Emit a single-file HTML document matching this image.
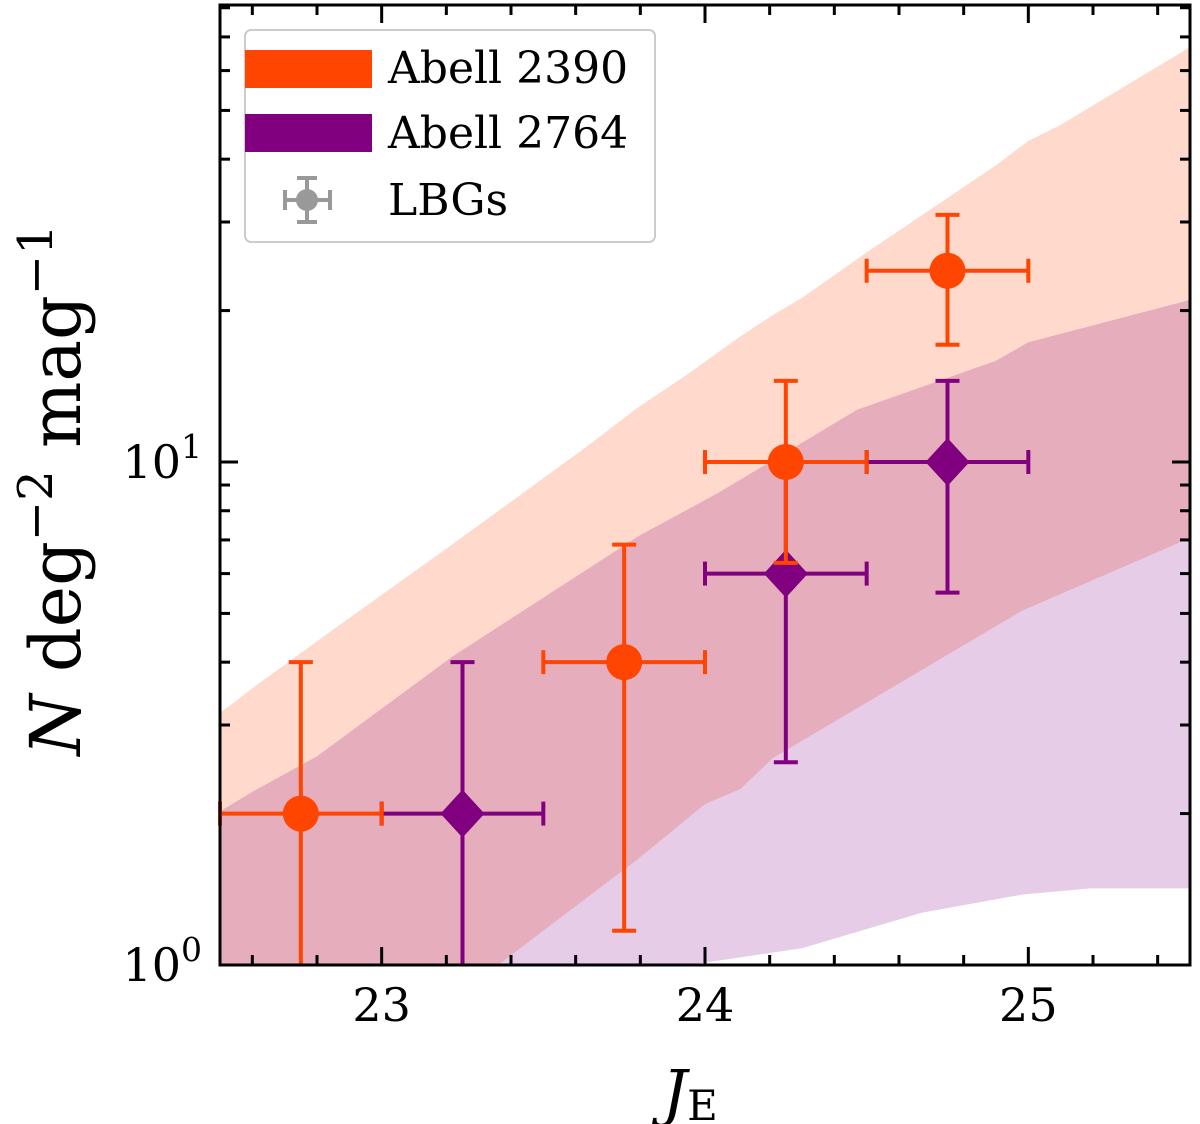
<!DOCTYPE html>
<html><head><meta charset="utf-8"><style>
html,body{margin:0;padding:0;background:#fff;}
svg{display:block;font-family:"DejaVu Serif","Liberation Serif",serif;}
</style></head><body>
<svg id="chart" width="1200" height="1124" viewBox="0 0 1200 1124" xmlns="http://www.w3.org/2000/svg">
<g id="bands"></g>
<g id="ticks"></g>
<g id="points"></g>
<rect x="220" y="5" width="970" height="960" fill="none" stroke="#000" stroke-width="3"/>
<g id="ticklabels" font-size="46"></g>
<text x="690" y="1114" font-size="62" text-anchor="middle"><tspan font-style="italic">J</tspan><tspan font-size="42" dy="6">E</tspan></text>
<text transform="translate(80,490) rotate(-90)" font-size="70" text-anchor="middle"><tspan font-style="italic">N</tspan> deg<tspan font-size="48" dy="-28">−2</tspan><tspan dy="28"> mag</tspan><tspan font-size="48" dy="-28">−1</tspan></text>
<g>
<rect x="245" y="30" width="410" height="212" rx="6" fill="#fff" fill-opacity="0.8" stroke="#ccc" stroke-width="2"/>
<rect x="245" y="50" width="127" height="38" fill="#ff4500"/>
<text x="388" y="83" font-size="44">Abell 2390</text>
<rect x="245" y="114" width="127" height="38" fill="#800080"/>
<text x="388" y="148" font-size="44">Abell 2764</text>
<g stroke="#999" stroke-width="4">
<line x1="285" y1="200" x2="330" y2="200"/><line x1="307" y1="178" x2="307" y2="222"/>
<line x1="285" y1="190" x2="285" y2="210"/><line x1="330" y1="190" x2="330" y2="210"/>
<line x1="297" y1="178" x2="317" y2="178"/><line x1="297" y1="222" x2="317" y2="222"/>
<circle cx="307" cy="200" r="11" fill="#999" stroke="none"/></g>
<text x="388" y="215" font-size="44">LBGs</text>
</g>
</svg>
<script>
const xTicksMajor=[23,24,25];
const a2390X=[22.75,23.75,24.25,24.75];
const a2390Y=[2,4,10,24];
const a2390Up=[4,6.85,14.5,31];
const a2390Lo=[0.5,1.17,6.3,17.1];
const a2764X=[23.25,24.25,24.75];
const a2764Y=[2,6,10];
const a2764Up=[4,10,14.5];
const a2764Lo=[0.5,2.53,5.5];
const xErr=0.25;
const a2390UpperX=[22.5,22.6,22.73,22.81,23.22,23.64,23.79,23.95,24.10,24.21,24.30,24.50,24.90,25.0,25.10,25.5];
const a2390Upper=[3.17,3.55,4.08,4.45,6.87,10.8,12.8,15.0,17.6,19.6,21.2,26.1,38.9,43.5,46.8,66.8];
const a2390LowerX=[22.5,23.36,23.79,23.90,24.0,24.11,24.21,24.32,24.98,25.5];
const a2390Lower=[0.5,1.0,1.62,1.85,2.09,2.24,2.58,2.84,5.06,7.06];
const a2764UpperX=[22.5,22.6,22.8,23.22,23.80,23.95,24.05,24.47,24.90,25.0,25.5];
const a2764Upper=[2.02,2.21,2.6,4.11,7.16,8.07,8.75,12.7,15.9,17.3,21.0];
const a2764LowerX=[22.5,23.95,24.30,24.67,24.98,25.19,25.5];
const a2764Lower=[0.5,1.0,1.08,1.27,1.38,1.42,1.42];
const NS='http://www.w3.org/2000/svg';
const X0=220,X1=1190,Y0=965,Y1=5;
const xs=v=>X0+(v-22.5)/3*(X1-X0);
const ys=v=>{let y=Y0-Math.log10(v)*503;return Math.min(Math.max(y,Y1),Y0);};
function mk(tag,attrs,parent){const e=document.createElementNS(NS,tag);for(const k in attrs)e.setAttribute(k,attrs[k]);parent.appendChild(e);return e;}
const bands=document.getElementById('bands');
function band(ux,up,lx,lo,col,name){let d='';ux.forEach((x,i)=>d+=(i?'L':'M')+xs(x)+','+ys(up[i]));for(let i=lx.length-1;i>=0;i--)d+='L'+xs(lx[i])+','+ys(lo[i]);d+='Z';
const p=mk('path',{d:d,fill:col,'fill-opacity':0.2},bands);

}
band(a2390UpperX,a2390Upper,a2390LowerX,a2390Lower,'#ff4500','band-abell-2390');
band(a2764UpperX,a2764Upper,a2764LowerX,a2764Lower,'#800080','band-abell-2764');
const tk=document.getElementById('ticks');
function tl(x1,y1,x2,y2){mk('line',{x1,y1,x2,y2,stroke:'#000','stroke-width':3},tk);}
for(let v=22.6;v<25.5;v+=0.2){const x=xs(v);const maj=Math.abs(v-Math.round(v))<0.01;const L=maj?18:10;tl(x,Y0,x,Y0-L);tl(x,Y1,x,Y1+L);}
for(let d=0;d<2;d++)for(let m=1;m<10;m++){const v=m*Math.pow(10,d);if(v>81)continue;const y=Y0-Math.log10(v)*503;const L=m===1?18:10;tl(X0,y,X0+L,y);tl(X1,y,X1-L,y);}
const lab=document.getElementById('ticklabels');
xTicksMajor.forEach(v=>{const t=mk('text',{x:xs(v),y:1021,'text-anchor':'middle'},lab);t.textContent=v;

});
[0,1].forEach(p=>{const t=mk('text',{x:202,y:Y0-p*503+16,'text-anchor':'end'},lab);t.innerHTML='10<tspan font-size="33" dy="-20">'+p+'</tspan>';

});
const pts=document.getElementById('points');
function eb(xv,yv,up,lo,col,shape,name){const g=mk('g',{stroke:col,'stroke-width':4},pts);


const cx=xs(xv),cy=ys(yv),xl=xs(xv-xErr),xr=xs(xv+xErr),yt=ys(up),yb=ys(lo);
mk('line',{x1:xl,y1:cy,x2:xr,y2:cy},g);mk('line',{x1:cx,y1:yt,x2:cx,y2:yb},g);
mk('line',{x1:xl,y1:cy-12,x2:xl,y2:cy+12},g);mk('line',{x1:xr,y1:cy-12,x2:xr,y2:cy+12},g);
mk('line',{x1:cx-12,y1:yt,x2:cx+12,y2:yt},g);if(yb<Y0)mk('line',{x1:cx-12,y1:yb,x2:cx+12,y2:yb},g);
if(shape==='c')mk('circle',{cx,cy,r:18,fill:col,stroke:'none'},g);
else mk('path',{d:`M${cx},${cy-24}L${cx+22},${cy}L${cx},${cy+24}L${cx-22},${cy}Z`,fill:col,stroke:'none'},g);}
a2764X.forEach((x,i)=>eb(x,a2764Y[i],a2764Up[i],a2764Lo[i],'#800080','d','point-abell-2764'));
a2390X.forEach((x,i)=>eb(x,a2390Y[i],a2390Up[i],a2390Lo[i],'#ff4500','c','point-abell-2390'));
</script>
</body></html>
